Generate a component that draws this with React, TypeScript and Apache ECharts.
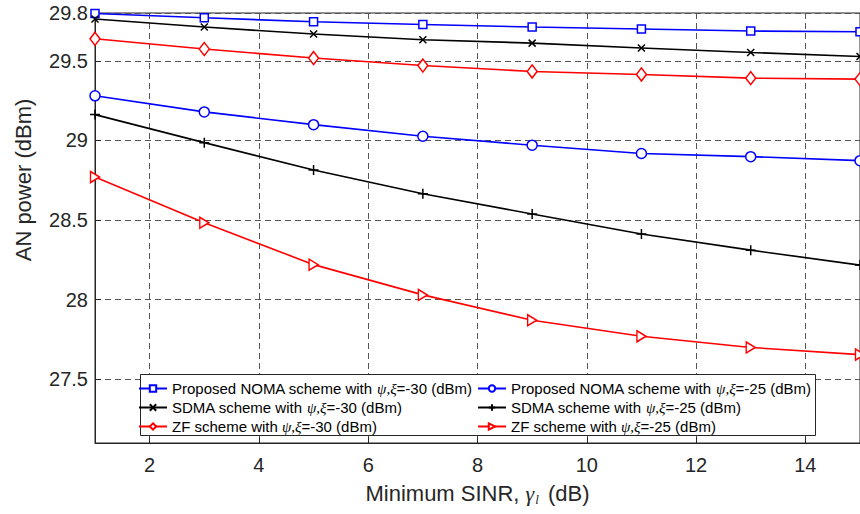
import React, { useEffect, useRef } from "react";
import * as echarts from "echarts";

// Minimum SINR (dB)
const sinr = [1, 3, 5, 7, 9, 11, 13, 15];

// AN power (dBm) for each scheme
const nomaM30 = [29.797, 29.77, 29.745, 29.728, 29.712, 29.7, 29.687, 29.682];
const sdmaM30 = [29.762, 29.712, 29.668, 29.632, 29.611, 29.58, 29.552, 29.527];
const zfM30 = [29.638, 29.574, 29.517, 29.47, 29.433, 29.414, 29.391, 29.385];
const nomaM25 = [29.28, 29.179, 29.099, 29.026, 28.97, 28.918, 28.898, 28.873];
const sdmaM25 = [29.162, 28.986, 28.814, 28.665, 28.538, 28.412, 28.311, 28.217];
const zfM25 = [28.77, 28.483, 28.22, 28.03, 27.871, 27.77, 27.7, 27.655];

const xTicks = [2, 4, 6, 8, 10, 12, 14];
const yTicks = [27.5, 28, 28.5, 29, 29.5, 29.8];

const seriesNames = [
  "Proposed NOMA scheme with ψ,ξ=-30 (dBm)",
  "SDMA scheme with ψ,ξ=-30 (dBm)",
  "ZF scheme with ψ,ξ=-30 (dBm)",
  "Proposed NOMA scheme with ψ,ξ=-25 (dBm)",
  "SDMA scheme with ψ,ξ=-25 (dBm)",
  "ZF scheme with ψ,ξ=-25 (dBm)",
];

const SANS = "Liberation Sans, Arial, sans-serif";
const SERIF = "Liberation Serif, Times New Roman, serif";
const AXIS_INK = "#262626";

// Outline marker shapes
const SQUARE = "path://M0,0L10,0L10,10L0,10Z";
const CIRCLE = "path://M0,5A5,5 0 1 1 10,5A5,5 0 1 1 0,5Z";
const DIAMOND = "path://M5,0L10,5L5,10L0,5Z";
const TRIANGLE_RIGHT = "path://M0,0L10,5L0,10Z";
const CROSS = "path://M0,0L10,10M0,10L10,0";
const PLUS = "path://M5,0L5,10M0,5L10,5";

const pair = (ys: number[]) => sinr.map((x, i) => [x, ys[i]]);

function lineSeries(
  name: string,
  ys: number[],
  color: string,
  symbol: string,
  symbolSize: number | number[],
  fill: string
) {
  return {
    name,
    type: "line",
    data: pair(ys),
    symbol,
    symbolSize,
    showAllSymbol: true,
    lineStyle: { color, width: 1.6, type: "solid" },
    itemStyle: { color: fill, borderColor: color, borderWidth: 1.5 },
    emphasis: { disabled: true },
    z: 5,
  };
}

const legendText = {
  fontSize: 15,
  fontFamily: SANS,
  color: "#000",
  rich: {
    g: { fontSize: 15, fontFamily: SERIF, fontStyle: "italic", color: "#000" },
  },
};

const legendFormatter = (name: string) => name.replace("ψ,ξ", "{g|ψ,ξ}");

function legendColumn(left: number, names: string[]) {
  return {
    left,
    top: 381,
    orient: "vertical",
    itemWidth: 28,
    itemHeight: 8,
    itemGap: 4,
    padding: 0,
    selectedMode: false,
    data: names,
    formatter: legendFormatter,
    textStyle: legendText,
    z: 6,
  };
}

export default function App() {
  const ref = useRef<HTMLDivElement>(null);

  useEffect(() => {
    if (!ref.current) return;
    const chart = echarts.init(ref.current, undefined, { renderer: "svg" });

    chart.setOption({
      animation: false,
      backgroundColor: "#fff",
      grid: {
        left: 95,
        top: 13,
        width: 766,
        height: 430,
        show: true,
        borderColor: AXIS_INK,
        borderWidth: 1,
        backgroundColor: "transparent",
      },
      xAxis: {
        type: "value",
        min: 1,
        max: 15,
        name: "Minimum SINR, {g|γ}{s|l} (dB)",
        nameLocation: "middle",
        nameGap: 38,
        nameTextStyle: {
          fontSize: 22,
          fontFamily: SANS,
          color: AXIS_INK,
          rich: {
            g: { fontSize: 22, fontFamily: SERIF, fontStyle: "italic", color: AXIS_INK },
            s: {
              fontSize: 13,
              fontFamily: SERIF,
              fontStyle: "italic",
              color: AXIS_INK,
              padding: [12, 3, 0, 1],
            },
          },
        },
        axisLine: { show: true, lineStyle: { color: AXIS_INK, width: 1 } },
        axisTick: {
          show: true,
          inside: true,
          length: 6,
          customValues: xTicks,
          lineStyle: { color: AXIS_INK },
        },
        axisLabel: {
          customValues: xTicks,
          fontSize: 20,
          fontFamily: SANS,
          color: AXIS_INK,
          margin: 12,
        },
        splitLine: {
          show: true,
          lineStyle: { color: "#555", type: [6, 4], width: 1 },
        },
      },
      yAxis: {
        type: "value",
        min: 27.1,
        max: 29.8,
        axisLine: { show: true, lineStyle: { color: AXIS_INK, width: 1 } },
        axisTick: {
          show: true,
          inside: true,
          length: 6,
          customValues: yTicks,
          lineStyle: { color: AXIS_INK },
        },
        axisLabel: {
          customValues: yTicks,
          fontSize: 20,
          fontFamily: SANS,
          color: AXIS_INK,
          margin: 7,
        },
        splitLine: {
          show: true,
          lineStyle: { color: "#555", type: [6, 4], width: 1 },
        },
      },
      legend: [
        legendColumn(138, seriesNames.slice(0, 3)),
        legendColumn(477, seriesNames.slice(3, 6)),
      ],
      graphic: [
        {
          type: "rect",
          z: 4,
          shape: { x: 140.5, y: 374.5, width: 675, height: 61 },
          style: { fill: "#fff", stroke: AXIS_INK, lineWidth: 1 },
        },
        {
          type: "text",
          x: 23,
          y: 180,
          rotation: Math.PI / 2,
          style: {
            text: "AN power (dBm)",
            fontSize: 22,
            fontFamily: SANS,
            fill: AXIS_INK,
            align: "center",
            verticalAlign: "middle",
          },
        },
      ],
      series: [
        lineSeries(seriesNames[0], nomaM30, "#0000ff", SQUARE, 8, "#fff"),
        lineSeries(seriesNames[1], sdmaM30, "#000000", CROSS, 7, "#000"),
        lineSeries(seriesNames[2], zfM30, "#ff0000", DIAMOND, [10, 13], "#fff"),
        lineSeries(seriesNames[3], nomaM25, "#0000ff", CIRCLE, 10, "#fff"),
        lineSeries(seriesNames[4], sdmaM25, "#000000", PLUS, 10, "#000"),
        lineSeries(seriesNames[5], zfM25, "#ff0000", TRIANGLE_RIGHT, [9, 11], "#fff"),
      ],
    });

    return () => chart.dispose();
  }, []);

  return (
    <div
      ref={ref}
      style={{ position: "absolute", left: 0, top: 0, width: 860, height: 514 }}
    />
  );
}
